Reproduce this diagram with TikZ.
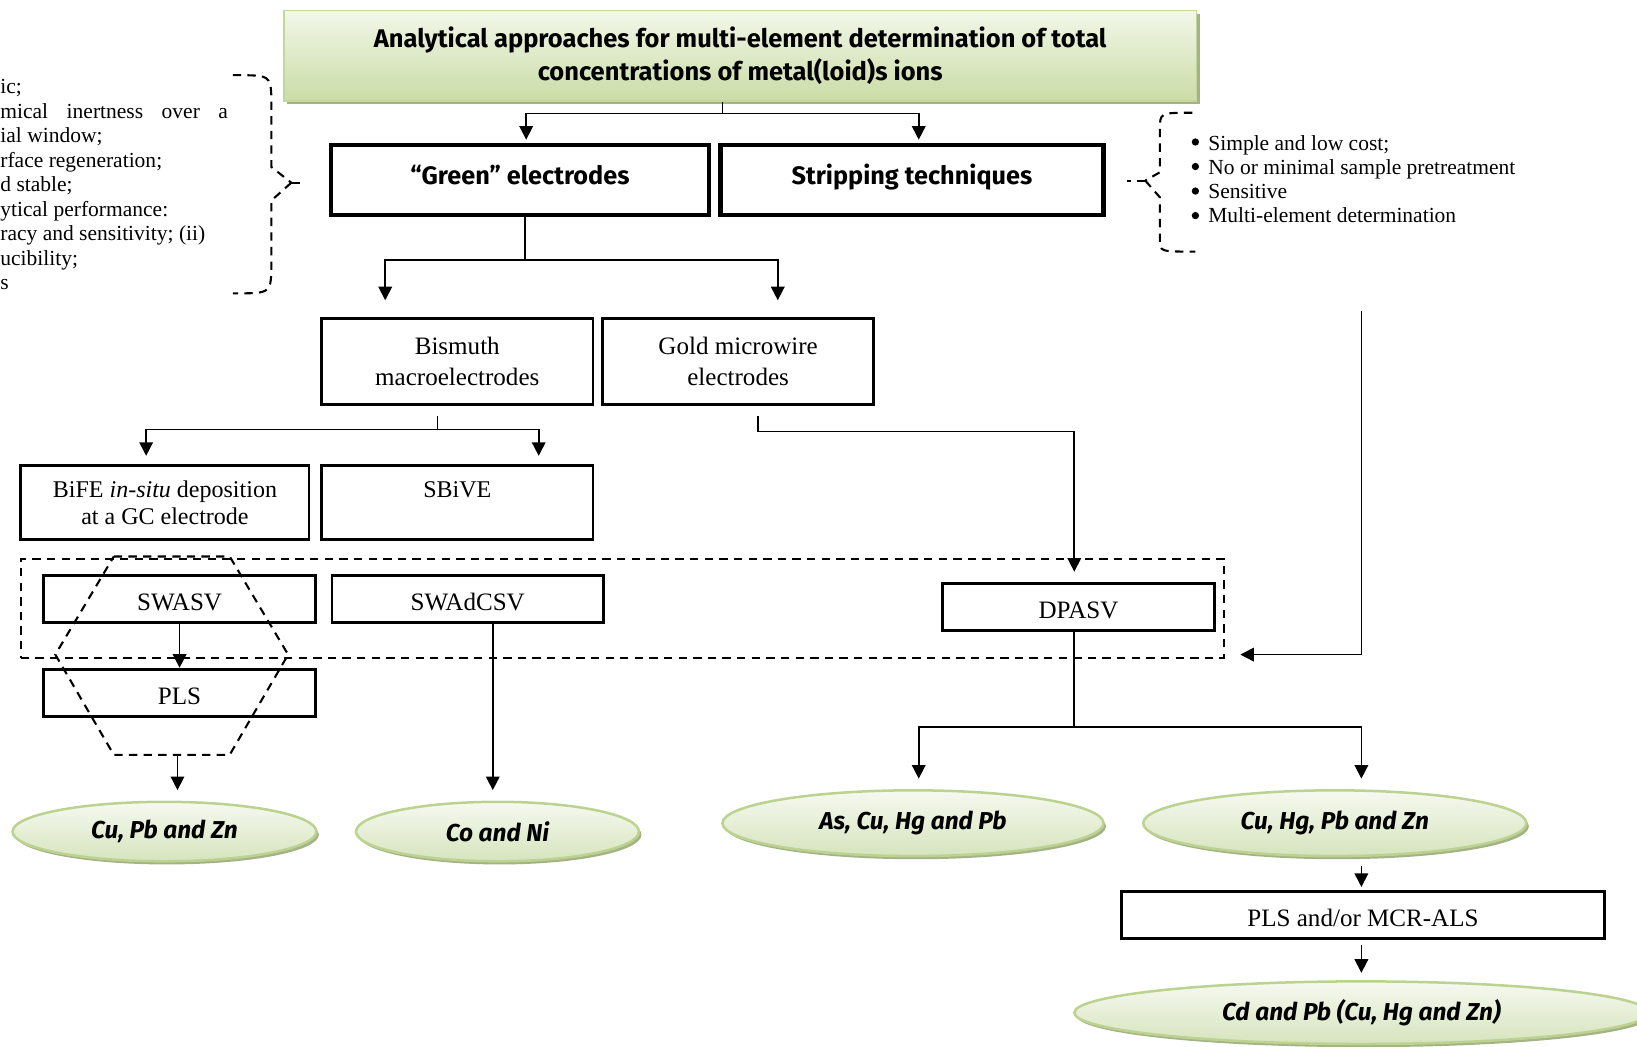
\documentclass[tikz,border=0pt]{standalone}
\usepackage{fontspec}
\setmainfont{Liberation Serif}
\newfontfamily\comicfont{Fira Sans}
\usetikzlibrary{positioning, arrows.meta, shapes.geometric, calc, shadows}
\definecolor{titletop}{HTML}{F2F7E9}
\definecolor{titlebot}{HTML}{CADCA6}
\definecolor{titleline}{HTML}{C3D69B}
\definecolor{shadowgreen}{HTML}{A3B383}
\definecolor{elltop}{HTML}{F6F9F0}
\definecolor{ellbot}{HTML}{D6E4BD}
\definecolor{ellline}{HTML}{BCD291}
\tikzset{
    box/.style={
        rectangle, draw=black, line width=1.4pt,
        inner sep=2pt, align=center,
        font=\fontsize{12}{15}\selectfont
    },
    onebox/.style={box, text height=11pt, text depth=0pt},
    headbox/.style={
        box, line width=2.2pt, text height=7pt, text depth=2.5pt,
        font=\comicfont\bfseries\fontsize{12.1}{15}\selectfont
    },
    titlebox/.style={
        rectangle, draw=titleline, line width=0.8pt,
        top color=titletop, bottom color=titlebot,
        drop shadow={shadow xshift=1.5pt, shadow yshift=-1.5pt, fill=shadowgreen, opacity=1},
        align=center,
        font=\comicfont\bfseries\fontsize{12.2}{15.5}\selectfont
    },
    result/.style={
        ellipse, draw=ellline, line width=1.2pt, inner sep=0pt,
        top color=elltop, bottom color=ellbot,
        drop shadow={shadow xshift=1.2pt, shadow yshift=-1.5pt, fill=shadowgreen, opacity=1},
        font=\comicfont\bfseries\itshape\fontsize{11.7}{13}\selectfont
    },
    conn/.style={line width=0.8pt},
    arr/.style={conn, -{Triangle[length=6.5pt, width=6.5pt]}},
    dashline/.style={line width=1pt, dash pattern=on 4pt off 3pt},
    notes/.style={
        anchor=north west, align=left, inner sep=0pt,
        font=\fontsize{10.3}{11.75}\selectfont
    }
}

\begin{document}
\begin{tikzpicture}[x=0.5pt, y=-0.5pt]
\useasboundingbox (0,0) rectangle (1568,1002);
\clip (0,0) rectangle (1568,1002);

% header
\node[titlebox, minimum width=437pt, minimum height=43.5pt] (title) at (709,53.5)
    {Analytical approaches for multi-element determination of total\\concentrations of metal(loid)s ions};

\node[headbox, minimum width=181pt, minimum height=33.5pt] (green) at (498,172.5) {“Green” electrodes};
\node[headbox, minimum width=183.5pt, minimum height=33.5pt] (strip) at (873.5,172.5) {Stripping techniques};

% electrodes
\node[box, minimum width=130pt, minimum height=41pt] (bism) at (438,346) {Bismuth\\macroelectrodes};
\node[box, minimum width=130pt, minimum height=41pt] (gold) at (707,346) {Gold microwire\\electrodes};
\node[box, minimum width=138pt, minimum height=35.5pt, font=\fontsize{11.5}{13}\selectfont] (bife) at (158,481.5)
    {BiFE \textit{in-situ} deposition\\at a GC electrode};
\node[box, minimum width=130pt, minimum height=35.5pt, font=\fontsize{11.5}{13}\selectfont] (sbive) at (438,481.5) {SBiVE\\~};

% techniques
\node[rectangle, dashline, draw, minimum width=576pt, minimum height=47.5pt] (techbox) at (596,582.5) {};
\node[onebox, minimum width=130pt, minimum height=22.5pt] (swasv) at (172,573.5) {SWASV};
\node[onebox, minimum width=130pt, minimum height=22.5pt] (swadcsv) at (448,573.5) {SWAdCSV};
\node[onebox, minimum width=130pt, minimum height=22.5pt] (dpasv) at (1033,581.5) {DPASV};
\node[onebox, minimum width=130pt, minimum height=22.5pt] (pls) at (172,663.5) {PLS};
\node[onebox, minimum width=231.5pt, minimum height=22.5pt] (plsmcr) at (1305.5,876.5) {PLS and/or MCR-ALS};

\draw[dashline] (109,533) -- (220,533) -- (276,627) -- (220,723) -- (109,723) -- (53,627) -- cycle;

% analytes
\node[result, minimum width=145.5pt, minimum height=28.5pt] (cupbzn) at (157.5,796.5) {Cu, Pb and Zn};
\node[result, minimum width=135.5pt, minimum height=28.5pt] (coni) at (476.5,796.5) {Co and Ni};
\node[result, minimum width=182.5pt, minimum height=31.5pt] (ascuhgpb) at (874.5,788.5) {As, Cu, Hg and Pb};
\node[result, minimum width=183.5pt, minimum height=31.5pt] (cuhgpbzn) at (1278.5,788.5) {Cu, Hg, Pb and Zn};
\node[result, minimum width=275pt, minimum height=30pt] (cdpb) at (1304,970) {Cd and Pb (Cu, Hg and Zn)};

% side notes
\node[notes] (greennotes) at (0,75.5) {ic;\\
    \makebox[109pt][s]{mical inertness over a}\\
    ial window;\\
    rface regeneration;\\
    d stable;\\
    ytical performance:\\
    racy and sensitivity; (ii)\\
    ucibility;\\
    s};
\node[notes, font=\fontsize{10.3}{11.6}\selectfont] (stripnotes) at (1157,129) {Simple and low cost;\\
    No or minimal sample pretreatment\\
    Sensitive\\
    Multi-element determination};
\foreach \y in {136,159.5,183,206.5}
    \fill (1145,\y) circle (1.75pt);

\coordinate (lbtip) at (279,175);
\draw[dashline] (223,72) .. controls (259,72) .. (260,94) -- (260,160) -- (lbtip);
\draw[dashline] (lbtip) -- (260,192) -- (260,258) .. controls (259,281) .. (223,281);
\draw[dashline, shorten >=12.5pt] (lbtip) -- (green.west |- lbtip);

\coordinate (rbtip) at (1097,173);
\draw[dashline] (1142,108) .. controls (1111,108) .. (1111,124) -- (1111,165) -- (rbtip);
\draw[dashline] (rbtip) -- (1111,189) -- (1111,230) .. controls (1111,241) .. (1145,241);
\draw[dashline, shorten >=10pt] (rbtip) -- (strip.east |- rbtip);

% connectors
\draw[conn] ($(title.south)+(-17,0)$) -- ++(0,11) coordinate (f1);
\draw[arr] (f1) -| ($(green.north)+(6,-3)$);
\draw[arr] (f1) -| ($(strip.north)+(6.5,-3)$);

\draw[conn] ($(green.south)+(5,0)$) -- ++(0,41) coordinate (f2);
\draw[arr] (f2) -| ($(bism.north)+(-69,-16)$);
\draw[arr] (f2) -| ($(gold.north)+(38,-16)$);

\draw[conn] ($(bism.south)+(-19,10)$) -- ++(0,13) coordinate (f3);
\draw[arr] (f3) -| ($(bife.north)+(-18,-8)$);
\draw[arr] (f3) -| ($(sbive.north)+(78,-8)$);

\draw[arr] ($(gold.south)+(19,10)$) -- ++(0,15) -| ($(dpasv.north)+(-4,-10)$);

\draw[arr] (swasv.south) -- (pls.north);
\coordinate (hexbot) at (170,724);
\draw[arr] (hexbot) -- ($(cupbzn.north)+(12.5,-10)$);
\draw[arr] ($(swadcsv.south)+(24,0)$) -- ($(coni.north)+(-4.5,-10)$);

\draw[conn] ($(dpasv.south)+(-4,0)$) -- ++(0,91) coordinate (f4);
\draw[arr] (f4) -| ($(ascuhgpb.north)+(5.5,-10)$);
\draw[arr] (f4) -| ($(cuhgpbzn.north)+(25.5,-10)$);

\coordinate (stripfree) at (1304,298);
\draw[arr] (stripfree) |- ($(techbox.east)+(15,44.5)$);

\draw[arr] ($(cuhgpbzn.south)+(25.5,8)$) -- ($(plsmcr.north)+(-1.5,-3)$);
\draw[arr] ($(plsmcr.south)+(-1.5,5)$) -- ($(cdpb.north)+(0,-7)$);

\end{tikzpicture}
\end{document}
